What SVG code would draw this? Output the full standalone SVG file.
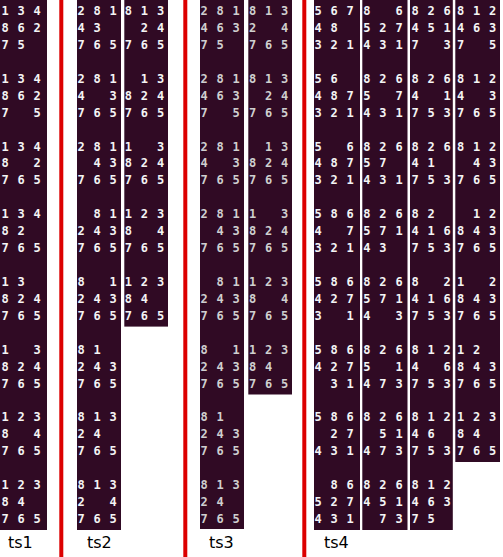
<svg xmlns="http://www.w3.org/2000/svg" width="503" height="557" viewBox="0 0 503 557">
<style>
.bg{fill:#300a24}
.bar{fill:#dc0000}
.d{font-family:"DejaVu Sans Mono","Liberation Mono",monospace;font-weight:bold;font-size:12px;fill:#f4f4f4;text-anchor:middle}
.g .d{fill:#cfcfcf}
.lbl{font-family:"DejaVu Sans","Liberation Sans",sans-serif;font-size:16px;fill:#000}
</style>
<rect width="503" height="557" fill="#fff"/>
<g id="separators">
<rect class="bar" x="59.3" y="0" width="4" height="557"/>
<rect class="bar" x="183.3" y="0" width="4" height="557"/>
<rect class="bar" x="302.3" y="0" width="4" height="557"/>
</g>
<g id="connectors"/>

<g id="ts1">
<rect class="bg" x="0" y="0" width="47" height="530"/>
<g id="ts1-1" transform="translate(5,0)"><text class="d"><tspan x="0 16.1 32.2" y="15.1">134</tspan><tspan x="0 16.1 32.2" y="32">862</tspan><tspan x="0 16.1" y="49">75</tspan></text></g>
<g id="ts1-2" transform="translate(5,67.72)"><text class="d"><tspan x="0 16.1 32.2" y="15.1">134</tspan><tspan x="0 16.1 32.2" y="32">862</tspan><tspan x="0 32.2" y="49">75</tspan></text></g>
<g id="ts1-3" transform="translate(5,135.44)"><text class="d"><tspan x="0 16.1 32.2" y="15.1">134</tspan><tspan x="0 32.2" y="32">82</tspan><tspan x="0 16.1 32.2" y="49">765</tspan></text></g>
<g id="ts1-4" transform="translate(5,203.16)"><text class="d"><tspan x="0 16.1 32.2" y="15.1">134</tspan><tspan x="0 16.1" y="32">82</tspan><tspan x="0 16.1 32.2" y="49">765</tspan></text></g>
<g id="ts1-5" transform="translate(5,270.88)"><text class="d"><tspan x="0 16.1" y="15.1">13</tspan><tspan x="0 16.1 32.2" y="32">824</tspan><tspan x="0 16.1 32.2" y="49">765</tspan></text></g>
<g id="ts1-6" transform="translate(5,338.6)"><text class="d"><tspan x="0 32.2" y="15.1">13</tspan><tspan x="0 16.1 32.2" y="32">824</tspan><tspan x="0 16.1 32.2" y="49">765</tspan></text></g>
<g id="ts1-7" transform="translate(5,406.32)"><text class="d"><tspan x="0 16.1 32.2" y="15.1">123</tspan><tspan x="0 32.2" y="32">84</tspan><tspan x="0 16.1 32.2" y="49">765</tspan></text></g>
<g id="ts1-8" transform="translate(5,474.04)"><text class="d"><tspan x="0 16.1 32.2" y="15.1">123</tspan><tspan x="0 16.1" y="32">84</tspan><tspan x="0 16.1 32.2" y="49">765</tspan></text></g>
</g>

<g id="ts2">
<rect class="bg" x="77" y="0" width="44" height="530"/>
<rect class="bg" x="124.3" y="0" width="43.7" height="326.6"/>
<g id="ts2-a1" transform="translate(81,0)"><text class="d"><tspan x="0 16.1 32.2" y="15.1">281</tspan><tspan x="0 16.1" y="32">43</tspan><tspan x="0 16.1 32.2" y="49">765</tspan></text></g>
<g id="ts2-a2" transform="translate(81,67.72)"><text class="d"><tspan x="0 16.1 32.2" y="15.1">281</tspan><tspan x="0 32.2" y="32">43</tspan><tspan x="0 16.1 32.2" y="49">765</tspan></text></g>
<g id="ts2-a3" transform="translate(81,135.44)"><text class="d"><tspan x="0 16.1 32.2" y="15.1">281</tspan><tspan x="16.1 32.2" y="32">43</tspan><tspan x="0 16.1 32.2" y="49">765</tspan></text></g>
<g id="ts2-a4" transform="translate(81,203.16)"><text class="d"><tspan x="16.1 32.2" y="15.1">81</tspan><tspan x="0 16.1 32.2" y="32">243</tspan><tspan x="0 16.1 32.2" y="49">765</tspan></text></g>
<g id="ts2-a5" transform="translate(81,270.88)"><text class="d"><tspan x="0 32.2" y="15.1">81</tspan><tspan x="0 16.1 32.2" y="32">243</tspan><tspan x="0 16.1 32.2" y="49">765</tspan></text></g>
<g id="ts2-a6" transform="translate(81,338.6)"><text class="d"><tspan x="0 16.1" y="15.1">81</tspan><tspan x="0 16.1 32.2" y="32">243</tspan><tspan x="0 16.1 32.2" y="49">765</tspan></text></g>
<g id="ts2-a7" transform="translate(81,406.32)"><text class="d"><tspan x="0 16.1 32.2" y="15.1">813</tspan><tspan x="0 16.1" y="32">24</tspan><tspan x="0 16.1 32.2" y="49">765</tspan></text></g>
<g id="ts2-a8" transform="translate(81,474.04)"><text class="d"><tspan x="0 16.1 32.2" y="15.1">813</tspan><tspan x="0 32.2" y="32">24</tspan><tspan x="0 16.1 32.2" y="49">765</tspan></text></g>
<g id="ts2-b1" transform="translate(128.3,0)"><text class="d"><tspan x="0 16.1 32.2" y="15.1">813</tspan><tspan x="16.1 32.2" y="32">24</tspan><tspan x="0 16.1 32.2" y="49">765</tspan></text></g>
<g id="ts2-b2" transform="translate(128.3,67.72)"><text class="d"><tspan x="16.1 32.2" y="15.1">13</tspan><tspan x="0 16.1 32.2" y="32">824</tspan><tspan x="0 16.1 32.2" y="49">765</tspan></text></g>
<g id="ts2-b3" transform="translate(128.3,135.44)"><text class="d"><tspan x="0 32.2" y="15.1">13</tspan><tspan x="0 16.1 32.2" y="32">824</tspan><tspan x="0 16.1 32.2" y="49">765</tspan></text></g>
<g id="ts2-b4" transform="translate(128.3,203.16)"><text class="d"><tspan x="0 16.1 32.2" y="15.1">123</tspan><tspan x="0 32.2" y="32">84</tspan><tspan x="0 16.1 32.2" y="49">765</tspan></text></g>
<g id="ts2-b5" transform="translate(128.3,270.88)"><text class="d"><tspan x="0 16.1 32.2" y="15.1">123</tspan><tspan x="0 16.1" y="32">84</tspan><tspan x="0 16.1 32.2" y="49">765</tspan></text></g>
</g>

<g id="ts3" class="g">
<rect class="bg" x="200" y="0" width="44" height="529"/>
<rect class="bg" x="248.3" y="0" width="43.7" height="394.5"/>
<g id="ts3-a1" transform="translate(204,0)"><text class="d"><tspan x="0 16.1 32.2" y="15.1">281</tspan><tspan x="0 16.1 32.2" y="32">463</tspan><tspan x="0 16.1" y="49">75</tspan></text></g>
<g id="ts3-a2" transform="translate(204,67.72)"><text class="d"><tspan x="0 16.1 32.2" y="15.1">281</tspan><tspan x="0 16.1 32.2" y="32">463</tspan><tspan x="0 32.2" y="49">75</tspan></text></g>
<g id="ts3-a3" transform="translate(204,135.44)"><text class="d"><tspan x="0 16.1 32.2" y="15.1">281</tspan><tspan x="0 32.2" y="32">43</tspan><tspan x="0 16.1 32.2" y="49">765</tspan></text></g>
<g id="ts3-a4" transform="translate(204,203.16)"><text class="d"><tspan x="0 16.1 32.2" y="15.1">281</tspan><tspan x="16.1 32.2" y="32">43</tspan><tspan x="0 16.1 32.2" y="49">765</tspan></text></g>
<g id="ts3-a5" transform="translate(204,270.88)"><text class="d"><tspan x="16.1 32.2" y="15.1">81</tspan><tspan x="0 16.1 32.2" y="32">243</tspan><tspan x="0 16.1 32.2" y="49">765</tspan></text></g>
<g id="ts3-a6" transform="translate(204,338.6)"><text class="d"><tspan x="0 32.2" y="15.1">81</tspan><tspan x="0 16.1 32.2" y="32">243</tspan><tspan x="0 16.1 32.2" y="49">765</tspan></text></g>
<g id="ts3-a7" transform="translate(204,406.32)"><text class="d"><tspan x="0 16.1" y="15.1">81</tspan><tspan x="0 16.1 32.2" y="32">243</tspan><tspan x="0 16.1 32.2" y="49">765</tspan></text></g>
<g id="ts3-a8" transform="translate(204,474.04)"><text class="d"><tspan x="0 16.1 32.2" y="15.1">813</tspan><tspan x="0 16.1" y="32">24</tspan><tspan x="0 16.1 32.2" y="49">765</tspan></text></g>
<g id="ts3-b1" transform="translate(252.5,0)"><text class="d"><tspan x="0 16.1 32.2" y="15.1">813</tspan><tspan x="0 32.2" y="32">24</tspan><tspan x="0 16.1 32.2" y="49">765</tspan></text></g>
<g id="ts3-b2" transform="translate(252.5,67.72)"><text class="d"><tspan x="0 16.1 32.2" y="15.1">813</tspan><tspan x="16.1 32.2" y="32">24</tspan><tspan x="0 16.1 32.2" y="49">765</tspan></text></g>
<g id="ts3-b3" transform="translate(252.5,135.44)"><text class="d"><tspan x="16.1 32.2" y="15.1">13</tspan><tspan x="0 16.1 32.2" y="32">824</tspan><tspan x="0 16.1 32.2" y="49">765</tspan></text></g>
<g id="ts3-b4" transform="translate(252.5,203.16)"><text class="d"><tspan x="0 32.2" y="15.1">13</tspan><tspan x="0 16.1 32.2" y="32">824</tspan><tspan x="0 16.1 32.2" y="49">765</tspan></text></g>
<g id="ts3-b5" transform="translate(252.5,270.88)"><text class="d"><tspan x="0 16.1 32.2" y="15.1">123</tspan><tspan x="0 32.2" y="32">84</tspan><tspan x="0 16.1 32.2" y="49">765</tspan></text></g>
<g id="ts3-b6" transform="translate(252.5,338.6)"><text class="d"><tspan x="0 16.1 32.2" y="15.1">123</tspan><tspan x="0 16.1" y="32">84</tspan><tspan x="0 16.1 32.2" y="49">765</tspan></text></g>
</g>

<g id="ts4">
<rect class="bg" x="314" y="0" width="46" height="530"/>
<rect class="bg" x="362.3" y="0" width="45.2" height="530"/>
<rect class="bg" x="410" y="0" width="42.8" height="530"/>
<rect class="bg" x="455.3" y="0" width="44.7" height="462"/>
<g id="ts4-a1" transform="translate(318,0)"><text class="d"><tspan x="0 16.1 32.2" y="15.1">567</tspan><tspan x="0 16.1" y="32">48</tspan><tspan x="0 16.1 32.2" y="49">321</tspan></text></g>
<g id="ts4-a2" transform="translate(318,67.72)"><text class="d"><tspan x="0 16.1" y="15.1">56</tspan><tspan x="0 16.1 32.2" y="32">487</tspan><tspan x="0 16.1 32.2" y="49">321</tspan></text></g>
<g id="ts4-a3" transform="translate(318,135.44)"><text class="d"><tspan x="0 32.2" y="15.1">56</tspan><tspan x="0 16.1 32.2" y="32">487</tspan><tspan x="0 16.1 32.2" y="49">321</tspan></text></g>
<g id="ts4-a4" transform="translate(318,203.16)"><text class="d"><tspan x="0 16.1 32.2" y="15.1">586</tspan><tspan x="0 32.2" y="32">47</tspan><tspan x="0 16.1 32.2" y="49">321</tspan></text></g>
<g id="ts4-a5" transform="translate(318,270.88)"><text class="d"><tspan x="0 16.1 32.2" y="15.1">586</tspan><tspan x="0 16.1 32.2" y="32">427</tspan><tspan x="0 32.2" y="49">31</tspan></text></g>
<g id="ts4-a6" transform="translate(318,338.6)"><text class="d"><tspan x="0 16.1 32.2" y="15.1">586</tspan><tspan x="0 16.1 32.2" y="32">427</tspan><tspan x="16.1 32.2" y="49">31</tspan></text></g>
<g id="ts4-a7" transform="translate(318,406.32)"><text class="d"><tspan x="0 16.1 32.2" y="15.1">586</tspan><tspan x="16.1 32.2" y="32">27</tspan><tspan x="0 16.1 32.2" y="49">431</tspan></text></g>
<g id="ts4-a8" transform="translate(318,474.04)"><text class="d"><tspan x="16.1 32.2" y="15.1">86</tspan><tspan x="0 16.1 32.2" y="32">527</tspan><tspan x="0 16.1 32.2" y="49">431</tspan></text></g>
<g id="ts4-b1" transform="translate(366.8,0)"><text class="d"><tspan x="0 32.2" y="15.1">86</tspan><tspan x="0 16.1 32.2" y="32">527</tspan><tspan x="0 16.1 32.2" y="49">431</tspan></text></g>
<g id="ts4-b2" transform="translate(366.8,67.72)"><text class="d"><tspan x="0 16.1 32.2" y="15.1">826</tspan><tspan x="0 32.2" y="32">57</tspan><tspan x="0 16.1 32.2" y="49">431</tspan></text></g>
<g id="ts4-b3" transform="translate(366.8,135.44)"><text class="d"><tspan x="0 16.1 32.2" y="15.1">826</tspan><tspan x="0 16.1" y="32">57</tspan><tspan x="0 16.1 32.2" y="49">431</tspan></text></g>
<g id="ts4-b4" transform="translate(366.8,203.16)"><text class="d"><tspan x="0 16.1 32.2" y="15.1">826</tspan><tspan x="0 16.1 32.2" y="32">571</tspan><tspan x="0 16.1" y="49">43</tspan></text></g>
<g id="ts4-b5" transform="translate(366.8,270.88)"><text class="d"><tspan x="0 16.1 32.2" y="15.1">826</tspan><tspan x="0 16.1 32.2" y="32">571</tspan><tspan x="0 32.2" y="49">43</tspan></text></g>
<g id="ts4-b6" transform="translate(366.8,338.6)"><text class="d"><tspan x="0 16.1 32.2" y="15.1">826</tspan><tspan x="0 32.2" y="32">51</tspan><tspan x="0 16.1 32.2" y="49">473</tspan></text></g>
<g id="ts4-b7" transform="translate(366.8,406.32)"><text class="d"><tspan x="0 16.1 32.2" y="15.1">826</tspan><tspan x="16.1 32.2" y="32">51</tspan><tspan x="0 16.1 32.2" y="49">473</tspan></text></g>
<g id="ts4-b8" transform="translate(366.8,474.04)"><text class="d"><tspan x="0 16.1 32.2" y="15.1">826</tspan><tspan x="0 16.1 32.2" y="32">451</tspan><tspan x="16.1 32.2" y="49">73</tspan></text></g>
<g id="ts4-c1" transform="translate(415,0)"><text class="d"><tspan x="0 16.1 32.2" y="15.1">826</tspan><tspan x="0 16.1 32.2" y="32">451</tspan><tspan x="0 32.2" y="49">73</tspan></text></g>
<g id="ts4-c2" transform="translate(415,67.72)"><text class="d"><tspan x="0 16.1 32.2" y="15.1">826</tspan><tspan x="0 32.2" y="32">41</tspan><tspan x="0 16.1 32.2" y="49">753</tspan></text></g>
<g id="ts4-c3" transform="translate(415,135.44)"><text class="d"><tspan x="0 16.1 32.2" y="15.1">826</tspan><tspan x="0 16.1" y="32">41</tspan><tspan x="0 16.1 32.2" y="49">753</tspan></text></g>
<g id="ts4-c4" transform="translate(415,203.16)"><text class="d"><tspan x="0 16.1" y="15.1">82</tspan><tspan x="0 16.1 32.2" y="32">416</tspan><tspan x="0 16.1 32.2" y="49">753</tspan></text></g>
<g id="ts4-c5" transform="translate(415,270.88)"><text class="d"><tspan x="0 32.2" y="15.1">82</tspan><tspan x="0 16.1 32.2" y="32">416</tspan><tspan x="0 16.1 32.2" y="49">753</tspan></text></g>
<g id="ts4-c6" transform="translate(415,338.6)"><text class="d"><tspan x="0 16.1 32.2" y="15.1">812</tspan><tspan x="0 32.2" y="32">46</tspan><tspan x="0 16.1 32.2" y="49">753</tspan></text></g>
<g id="ts4-c7" transform="translate(415,406.32)"><text class="d"><tspan x="0 16.1 32.2" y="15.1">812</tspan><tspan x="0 16.1" y="32">46</tspan><tspan x="0 16.1 32.2" y="49">753</tspan></text></g>
<g id="ts4-c8" transform="translate(415,474.04)"><text class="d"><tspan x="0 16.1 32.2" y="15.1">812</tspan><tspan x="0 16.1 32.2" y="32">463</tspan><tspan x="0 16.1" y="49">75</tspan></text></g>
<g id="ts4-d1" transform="translate(460.5,0)"><text class="d"><tspan x="0 16.1 32.2" y="15.1">812</tspan><tspan x="0 16.1 32.2" y="32">463</tspan><tspan x="0 32.2" y="49">75</tspan></text></g>
<g id="ts4-d2" transform="translate(460.5,67.72)"><text class="d"><tspan x="0 16.1 32.2" y="15.1">812</tspan><tspan x="0 32.2" y="32">43</tspan><tspan x="0 16.1 32.2" y="49">765</tspan></text></g>
<g id="ts4-d3" transform="translate(460.5,135.44)"><text class="d"><tspan x="0 16.1 32.2" y="15.1">812</tspan><tspan x="16.1 32.2" y="32">43</tspan><tspan x="0 16.1 32.2" y="49">765</tspan></text></g>
<g id="ts4-d4" transform="translate(460.5,203.16)"><text class="d"><tspan x="16.1 32.2" y="15.1">12</tspan><tspan x="0 16.1 32.2" y="32">843</tspan><tspan x="0 16.1 32.2" y="49">765</tspan></text></g>
<g id="ts4-d5" transform="translate(460.5,270.88)"><text class="d"><tspan x="0 32.2" y="15.1">12</tspan><tspan x="0 16.1 32.2" y="32">843</tspan><tspan x="0 16.1 32.2" y="49">765</tspan></text></g>
<g id="ts4-d6" transform="translate(460.5,338.6)"><text class="d"><tspan x="0 16.1" y="15.1">12</tspan><tspan x="0 16.1 32.2" y="32">843</tspan><tspan x="0 16.1 32.2" y="49">765</tspan></text></g>
<g id="ts4-d7" transform="translate(460.5,406.32)"><text class="d"><tspan x="0 16.1 32.2" y="15.1">123</tspan><tspan x="0 16.1" y="32">84</tspan><tspan x="0 16.1 32.2" y="49">765</tspan></text></g>
</g>

<g id="labels">
<text class="lbl" x="8" y="548">ts1</text>
<text class="lbl" x="87" y="548">ts2</text>
<text class="lbl" x="209" y="548">ts3</text>
<text class="lbl" x="324" y="548">ts4</text>
</g>
</svg>
